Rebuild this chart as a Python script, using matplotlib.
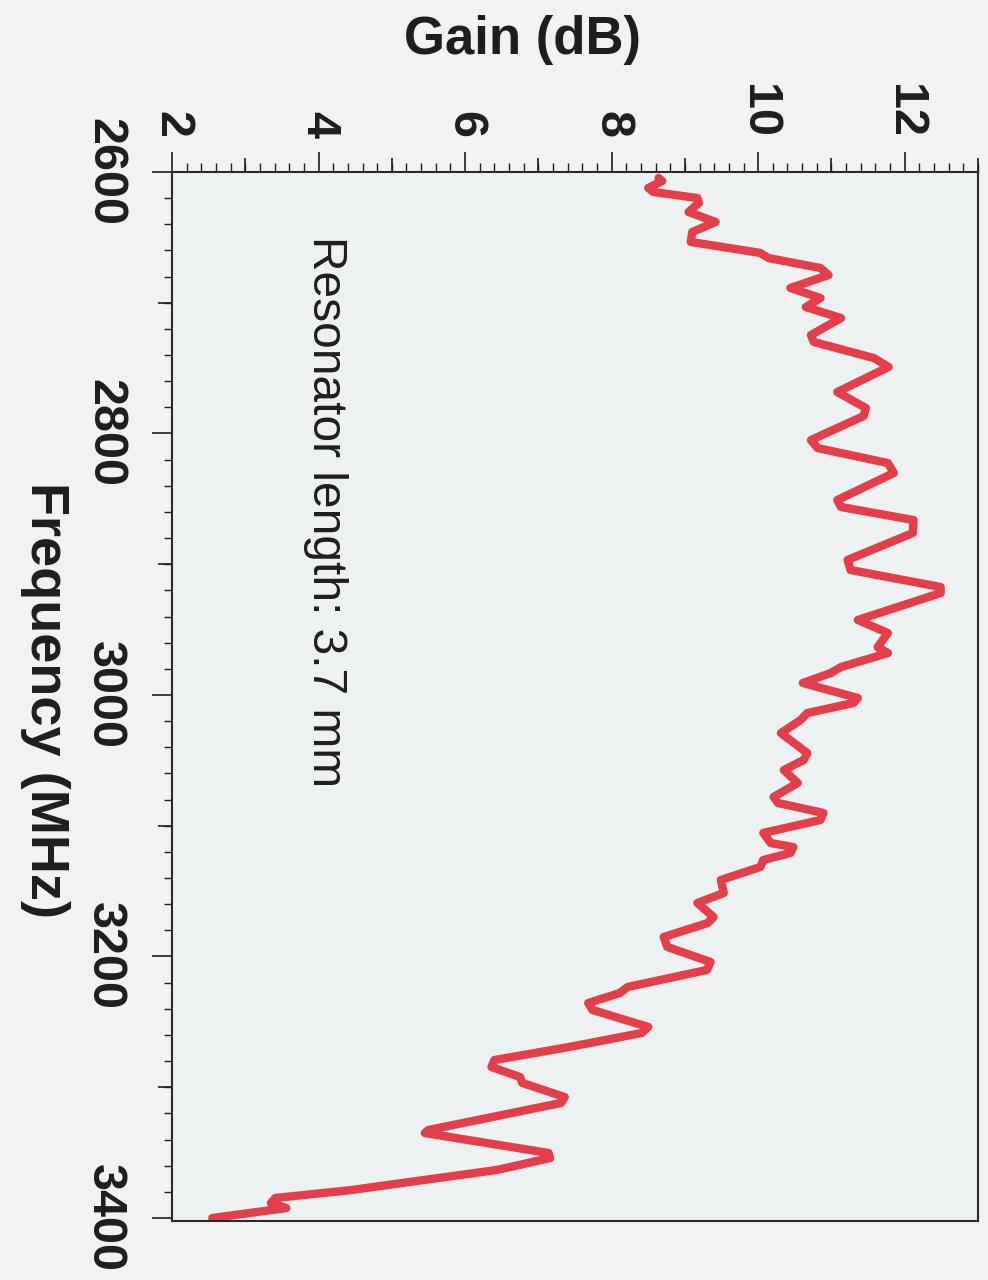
import matplotlib
matplotlib.use('Agg')
import matplotlib.pyplot as plt
from matplotlib.ticker import MultipleLocator

# ---- data ----
freq_mhz = [2604.6, 2606.9, 2612.2, 2615.3, 2619.9, 2623.7, 2630.6, 2638.2, 2645.9, 2653.5,
            2661.9, 2665.8, 2673.4, 2678.8, 2688.7, 2696.4, 2703.3, 2711.7, 2724.7, 2730.0,
            2742.3, 2749.1, 2768.3, 2780.5, 2786.6, 2805.0, 2811.1, 2822.6, 2830.2, 2850.9,
            2856.2, 2866.2, 2876.1, 2896.7, 2904.4, 2917.4, 2922.0, 2942.6, 2952.6, 2963.3,
            2967.9, 2978.6, 2983.2, 2990.8, 3002.3, 3006.1, 3013.8, 3019.1, 3029.1, 3044.4,
            3049.7, 3057.4, 3067.3, 3078.0, 3082.6, 3090.2, 3095.6, 3105.5, 3113.2, 3116.3,
            3120.8, 3126.2, 3131.5, 3141.5, 3151.4, 3159.1, 3169.8, 3174.4, 3185.1, 3192.7,
            3204.2, 3210.3, 3223.3, 3227.9, 3235.6, 3240.9, 3253.9, 3258.5, 3269.2, 3279.2,
            3284.5, 3292.2, 3296.7, 3307.5, 3312.0, 3332.7, 3335.0, 3350.3, 3354.1, 3363.3,
            3370.9, 3378.6, 3384.7, 3388.5, 3392.4, 3400.0]
gain_db = [8.64, 8.69, 8.50, 8.57, 9.17, 9.19, 9.05, 9.42, 9.10, 9.08,
           10.03, 10.14, 10.85, 10.96, 10.44, 10.85, 10.65, 11.13, 10.72, 10.76,
           11.58, 11.78, 11.08, 11.47, 11.44, 10.72, 10.81, 11.77, 11.85, 11.08,
           11.13, 12.12, 12.11, 11.22, 11.26, 12.49, 12.49, 11.36, 11.77, 11.63,
           11.77, 11.13, 10.99, 10.61, 11.36, 11.30, 10.67, 10.58, 10.31, 10.67,
           10.62, 10.35, 10.54, 10.21, 10.27, 10.89, 10.85, 10.07, 10.17, 10.48,
           10.44, 10.07, 10.03, 9.49, 9.53, 9.17, 9.39, 9.31, 8.71, 8.76,
           9.35, 9.30, 8.22, 8.11, 7.68, 7.74, 8.50, 8.41, 7.42, 6.40,
           6.36, 6.75, 6.78, 7.36, 7.31, 5.50, 5.45, 7.14, 7.16, 6.43,
           5.44, 4.45, 3.41, 3.35, 3.56, 2.55]
gain_ticks = [2, 4, 6, 8, 10, 12]
gain_mid_ticks = [3, 5, 7, 9, 11, 13]
freq_ticks = [2600, 2800, 3000, 3200, 3400]
freq_mid_ticks = [2700, 2900, 3100, 3300]
annotation = 'Resonator length: 3.7 mm'

plt.rcParams['font.family'] = ['Liberation Sans', 'DejaVu Sans']
TXT = '#1e1e1e'
RED = '#e43e4a'

W, H = 988, 1280
fig = plt.figure(figsize=(W / 100, H / 100), dpi=100)
fig.patch.set_facecolor('#f1f3f3')
ax = fig.add_axes([172 / W, 1 - 1221 / H, (978 - 172) / W, (1221 - 172) / H])
ax.set_facecolor('#eef1f2')

ax.plot(gain_db, freq_mhz, color=RED, lw=6, solid_joinstyle='round', solid_capstyle='round')

ax.set_xlim(2, 13)
ax.set_ylim(3402.3, 2600)

# gain axis on top
ax.xaxis.tick_top()
ax.set_xticks(gain_ticks)
ax.set_xticklabels([str(t) for t in gain_ticks], rotation=-90, fontsize=35,
                   fontweight='bold', color=TXT, ha='center', va='bottom')
ax.xaxis.set_minor_locator(MultipleLocator(0.2))
ax.tick_params(axis='x', which='major', direction='out', length=14.4, width=1.2,
               pad=10, top=True, bottom=False, color=TXT)
ax.tick_params(axis='x', which='minor', direction='out', length=6.5, width=1.0,
               top=True, bottom=False, color=TXT)

# frequency axis on left
ax.set_yticks(freq_ticks)
ax.set_yticklabels([str(t) for t in freq_ticks], rotation=-90, fontsize=35,
                   fontweight='bold', color=TXT, ha='right', va='center')
ax.yaxis.set_minor_locator(MultipleLocator(20))
ax.tick_params(axis='y', which='major', direction='out', length=14.4, width=1.2,
               pad=18, left=True, right=False, color=TXT)
ax.tick_params(axis='y', which='minor', direction='out', length=6.0, width=1.0,
               left=True, right=False, color=TXT)

# medium ticks
secx = ax.secondary_xaxis('top')
secx.set_xticks(gain_mid_ticks)
secx.tick_params(axis='x', direction='out', length=10, width=1.2, labeltop=False,
                 labelbottom=False, color=TXT)
for s in secx.spines.values():
    s.set_visible(False)
secy = ax.secondary_yaxis('left')
secy.set_yticks(freq_mid_ticks)
secy.tick_params(axis='y', direction='out', length=10, width=1.2, labelleft=False,
                 labelright=False, color=TXT)
for s in secy.spines.values():
    s.set_visible(False)

for s in ax.spines.values():
    s.set_linewidth(1.5)
    s.set_color('#2a2a2a')

ax.text(4.1, 2649, annotation, rotation=-90, ha='center', va='top',
        fontsize=34.5, color=TXT)

fig.text(523 / W, 1 - 40 / H, 'Gain (dB)', ha='center', va='center',
         fontsize=38, fontweight='bold', color=TXT)
fig.text(45 / W, 1 - 700 / H, 'Frequency (MHz)', rotation=-90, ha='center',
         va='center', fontsize=39, fontweight='bold', color=TXT)

fig.savefig('out.png', dpi=100, facecolor=fig.get_facecolor())
